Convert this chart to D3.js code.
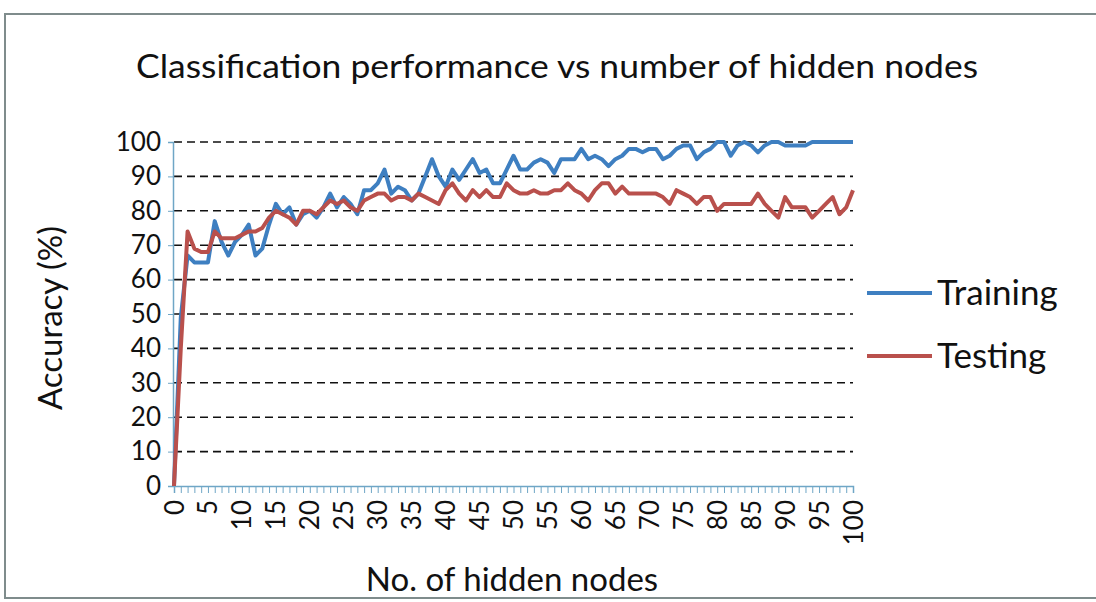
<!DOCTYPE html>
<html><head><meta charset="utf-8">
<script src="https://cdn.jsdelivr.net/npm/d3@7"></script>
<style>body{margin:0;background:#fff;} svg{display:block;}</style>
</head><body>
<svg id="c" width="1096" height="602"></svg>
<script>
const nodes = d3.range(0, 101);
const training = [0,49,67,65,65,65,77,71,67,71,73,76,67,69,76,82,79,81,76,79,
80,78,81,85,81,84,82,79,86,86,88,92,85,87,86,83,85,90,95,90,
87,92,89,92,95,91,92,88,88,92,96,92,92,94,95,94,91,95,95,95,
98,95,96,95,93,95,96,98,98,97,98,98,95,96,98,99,99,95,97,98,
100,100,96,99,100,99,97,99,100,100,99,99,99,99,100,100,100,100,100,100,100];
const testing = [0,40,74,69,68,68,74,72,72,72,73,74,74,75,78,80,79,78,76,80,
80,79,81,83,82,83,81,80,83,84,85,85,83,84,84,83,85,84,83,82,
86,88,85,83,86,84,86,84,84,88,86,85,85,86,85,85,86,86,88,86,
85,83,86,88,88,85,87,85,85,85,85,85,84,82,86,85,84,82,84,84,
80,82,82,82,82,82,85,82,80,78,84,81,81,81,78,80,82,84,79,81,86];
const yTicks = [0,10,20,30,40,50,60,70,80,90,100];
const xLabelTicks = d3.range(0, 101, 5);
const seriesNames = ["Training", "Testing"];
const seriesColors = ["#3e7fc1", "#b9504c"];

const svg = d3.select("#c");
const font = "Lato, 'Open Sans', sans-serif";
// outer border
svg.append("rect").attr("x",5).attr("y",14).attr("width",1100).attr("height",584)
  .attr("fill","#fff").attr("stroke","#7f8c8c").attr("stroke-width",2);

const x = d3.scaleLinear().domain([0,100]).range([174,853]);
const y = d3.scaleLinear().domain([0,100]).range([486,142]);

// title
svg.append("text").attr("x",557).attr("y",78).attr("text-anchor","middle")
  .attr("font-family",font).attr("font-size",33).attr("fill","#111")
  .attr("textLength",842).attr("lengthAdjust","spacingAndGlyphs")
  .text("Classification performance vs number of hidden nodes");

// gridlines
svg.append("g").selectAll("line").data(yTicks.filter(d=>d>0)).join("line")
  .attr("x1",x(0)).attr("x2",x(100)).attr("y1",d=>y(d)).attr("y2",d=>y(d))
  .attr("stroke","#111").attr("stroke-width",1.6).attr("stroke-dasharray","8,5");

// y axis
const ya = svg.append("g").attr("transform",`translate(${x(0)-1},0)`)
  .call(d3.axisLeft(y).tickValues(yTicks).tickSize(5).tickPadding(7).tickFormat(d3.format("d")));
ya.select(".domain").attr("stroke","#6fa6c6").attr("stroke-width",1.5);
ya.selectAll(".tick line").attr("stroke","#6fa6c6");
ya.selectAll("text").attr("font-family",font).attr("font-size",26).attr("fill","#111");

// x axis
const xa = svg.append("g").attr("transform",`translate(0,${y(0)})`)
  .call(d3.axisBottom(x).tickValues(nodes).tickSize(7).tickFormat(""));
xa.select(".domain").attr("stroke","#6fa6c6").attr("stroke-width",1.5);
xa.selectAll(".tick line").attr("stroke","#6fa6c6");
svg.append("g").selectAll("text").data(xLabelTicks).join("text")
  .attr("transform",d=>`translate(${x(d)+9.5},500) rotate(-90)`)
  .attr("text-anchor","end").attr("font-family",font).attr("font-size",26).attr("fill","#111")
  .text(d=>d);

// axis titles
svg.append("text").attr("transform","translate(62,318) rotate(-90)").attr("text-anchor","middle")
  .attr("font-family",font).attr("font-size",33).attr("fill","#111").text("Accuracy (%)");
svg.append("text").attr("x",512).attr("y",591).attr("text-anchor","middle")
  .attr("font-family",font).attr("font-size",33).attr("fill","#111").text("No. of hidden nodes");

// lines
const line = d3.line().x((d,i)=>x(nodes[i])).y(d=>y(d));
[training, testing].forEach((s,k)=>{
  svg.append("path").datum(s).attr("d",line).attr("fill","none")
    .attr("stroke",seriesColors[k]).attr("stroke-width",4).attr("stroke-linejoin","round");
});

// legend
const lg = svg.append("g");
seriesNames.forEach((n,k)=>{
  const ly = 293 + k*63;
  lg.append("line").attr("x1",867).attr("x2",932).attr("y1",ly).attr("y2",ly)
    .attr("stroke",seriesColors[k]).attr("stroke-width",4);
  lg.append("text").attr("x",937).attr("y",ly).attr("dy","0.35em")
    .attr("font-family",font).attr("font-size",35).attr("fill","#111").text(n);
});
</script>
</body></html>
